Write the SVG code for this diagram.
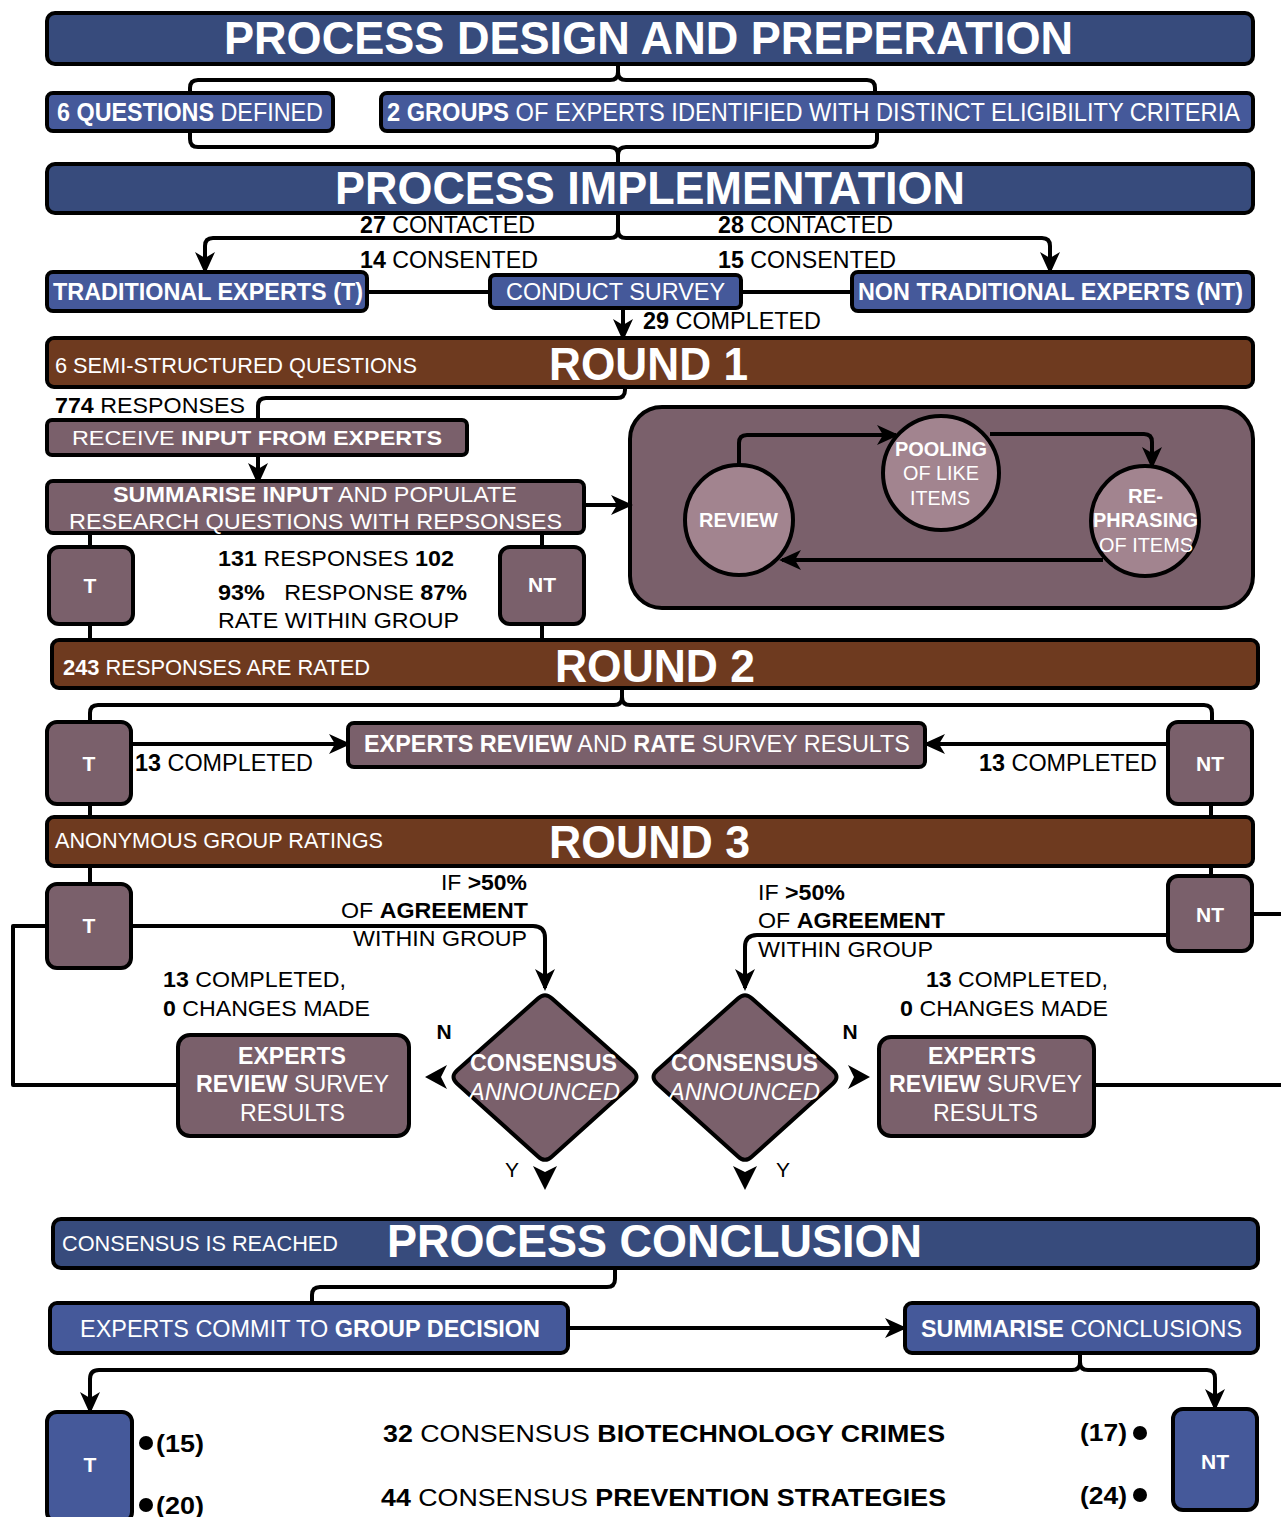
<svg xmlns="http://www.w3.org/2000/svg" width="1281" height="1517" viewBox="0 0 1281 1517">
<style>
text{font-family:"Liberation Sans",Arial,sans-serif}
.w{fill:#fff}.k{fill:#000}.b{font-weight:bold}.i{font-style:italic}
.hdr{fill:#374b7c;stroke:#000;stroke-width:4}
.blu{fill:#45599a;stroke:#000;stroke-width:4}
.brn{fill:#6e3a1f;stroke:#000;stroke-width:4}
.mv{fill:#7a606b;stroke:#000;stroke-width:4}
.cir{fill:#a2848f;stroke:#000;stroke-width:4}
.ln{fill:none;stroke:#000;stroke-width:4;stroke-linejoin:round}
.ar{fill:none;stroke:#000;stroke-width:4;stroke-linejoin:round;marker-end:url(#ah)}
.ah{fill:#000}
</style>
<defs>
<marker id="ah" viewBox="0 0 22 22" refX="19" refY="11" markerWidth="22" markerHeight="22" markerUnits="userSpaceOnUse" orient="auto">
<path d="M0,1 L22,11 L0,21 L6,11 z" fill="#000"/>
</marker>
</defs>

<g id="review-panel">
<rect class="mv" x="630" y="407" width="623" height="201" rx="32"/>
</g>

<g id="connectors">
<path class="ln" d="M618,64 V72 Q618,80 610,80 H198 Q190,80 190,88 V93"/>
<path class="ln" d="M618,72 Q618,80 626,80 H867 Q875,80 875,88 V93"/>
<path class="ln" d="M190,131 V139 Q190,147 198,147 H610 Q618,147 618,155 V165"/>
<path class="ln" d="M877,131 V139 Q877,147 869,147 H626 Q618,147 618,155"/>
<path class="ar" d="M618,213 V230 Q618,238 610,238 H213 Q205,238 205,246 V271"/>
<path class="ar" d="M618,230 Q618,238 626,238 H1042 Q1050,238 1050,246 V271"/>
<path class="ln" d="M367,292 H490"/>
<path class="ln" d="M741,292 H852"/>
<path class="ar" d="M623,308 V338"/>
<path class="ln" d="M625,387 V390 Q625,398 617,398 H266 Q258,398 258,406 V420"/>
<path class="ar" d="M258,455 V482"/>
<path class="ar" d="M584,505 H630"/>
<path class="ar" d="M739,466 V443 Q739,435 747,435 H896"/>
<path class="ar" d="M990,434 H1144 Q1152,434 1152,442 V466"/>
<path class="ar" d="M1103,560 H782"/>
<path class="ln" d="M90,533 V547 M90,624 V641 M542,533 V547 M542,624 V641"/>
<path class="ln" d="M622,688 V697 Q622,705 614,705 H98 Q90,705 90,713 V722"/>
<path class="ln" d="M622,697 Q622,705 630,705 H1204 Q1212,705 1212,713 V722"/>
<path class="ar" d="M131,744 H348"/>
<path class="ar" d="M1168,744 H926"/>
<path class="ln" d="M90,804 V817 M1211,804 V817 M90,866 V884 M1211,866 V876"/>
<path class="ar" d="M131,926 H533 Q545,926 545,938 V988"/>
<path class="ar" d="M1168,935 H757 Q745,935 745,947 V988"/>
<path class="ln" d="M47,926 H13 V1085 H178"/>
<path class="ln" d="M1094,1085 H1281"/>
<path class="ln" d="M1252,914 H1281"/>
<path class="ah" d="M425,1077 L447,1065 L441,1077 L447,1089 z"/>
<path class="ah" d="M870,1077 L848,1065 L854,1077 L848,1089 z"/>
<path class="ah" d="M545,1190 L533,1166 L545,1172 L557,1166 z"/>
<path class="ah" d="M745,1190 L733,1166 L745,1172 L757,1166 z"/>
<path class="ln" d="M615,1268 V1279 Q615,1287 607,1287 H320 Q312,1287 312,1295 V1303"/>
<path class="ar" d="M568,1328 H904"/>
<path class="ar" d="M1080,1353 V1362 Q1080,1370 1072,1370 H99 Q90,1370 90,1379 V1411"/>
<path class="ar" d="M1080,1362 Q1080,1370 1088,1370 H1207 Q1215,1370 1215,1378 V1408"/>
</g>

<g id="header-design">
<rect class="hdr" x="47" y="13" width="1206" height="51" rx="8"/>
<text class="w b" x="224" y="54" font-size="47" textLength="849" lengthAdjust="spacingAndGlyphs">PROCESS DESIGN AND PREPERATION</text>
</g>
<g id="questions-defined">
<rect class="blu" x="47" y="93" width="286" height="38" rx="6"/>
<text class="w" x="57" y="121" font-size="25" textLength="266" lengthAdjust="spacingAndGlyphs"><tspan class="b">6 QUESTIONS</tspan> DEFINED</text>
</g>
<g id="groups-identified">
<rect class="blu" x="381" y="93" width="872" height="38" rx="6"/>
<text class="w" x="387" y="121" font-size="25" textLength="853" lengthAdjust="spacingAndGlyphs"><tspan class="b">2 GROUPS</tspan> OF EXPERTS IDENTIFIED WITH DISTINCT  ELIGIBILITY CRITERIA</text>
</g>
<g id="header-implementation">
<rect class="hdr" x="47" y="164" width="1206" height="49" rx="8"/>
<text class="w b" x="335" y="204" font-size="47" textLength="630" lengthAdjust="spacingAndGlyphs">PROCESS IMPLEMENTATION</text>
</g>
<g id="labels-contact">
<text class="k" x="360" y="233" font-size="23" textLength="175" lengthAdjust="spacingAndGlyphs"><tspan class="b">27</tspan> CONTACTED</text>
<text class="k" x="360" y="268" font-size="23" textLength="178" lengthAdjust="spacingAndGlyphs"><tspan class="b">14</tspan> CONSENTED</text>
<text class="k" x="718" y="233" font-size="23" textLength="175" lengthAdjust="spacingAndGlyphs"><tspan class="b">28</tspan> CONTACTED</text>
<text class="k" x="718" y="268" font-size="23" textLength="178" lengthAdjust="spacingAndGlyphs"><tspan class="b">15</tspan> CONSENTED</text>
<text class="k" x="643" y="329" font-size="23" textLength="178" lengthAdjust="spacingAndGlyphs"><tspan class="b">29</tspan> COMPLETED</text>
</g>
<g id="traditional-experts">
<rect class="blu" x="47" y="272" width="320" height="39" rx="6"/>
<text class="w b" x="53" y="300" font-size="24" textLength="310" lengthAdjust="spacingAndGlyphs">TRADITIONAL EXPERTS (T)</text>
</g>
<g id="conduct-survey">
<rect class="blu" x="490" y="275" width="251" height="33" rx="5"/>
<text class="w" x="506" y="300" font-size="24" textLength="219" lengthAdjust="spacingAndGlyphs">CONDUCT SURVEY</text>
</g>
<g id="non-traditional-experts">
<rect class="blu" x="852" y="272" width="401" height="39" rx="6"/>
<text class="w b" x="858" y="300" font-size="24" textLength="385" lengthAdjust="spacingAndGlyphs">NON TRADITIONAL EXPERTS (NT)</text>
</g>

<g id="round1">
<rect class="brn" x="47" y="338" width="1206" height="49" rx="7"/>
<text class="w" x="55" y="373" font-size="22" textLength="362" lengthAdjust="spacingAndGlyphs">6 SEMI-STRUCTURED QUESTIONS</text>
<text class="w b" x="549" y="380" font-size="46" textLength="199" lengthAdjust="spacingAndGlyphs">ROUND 1</text>
</g>
<text class="k" x="55" y="413" font-size="22" textLength="190" lengthAdjust="spacingAndGlyphs"><tspan class="b">774</tspan> RESPONSES</text>
<g id="receive-input">
<rect class="mv" x="47" y="420" width="420" height="35" rx="5"/>
<text class="w" x="72" y="445" font-size="21" textLength="370" lengthAdjust="spacingAndGlyphs">RECEIVE <tspan class="b">INPUT FROM EXPERTS</tspan></text>
</g>
<g id="summarise-input">
<rect class="mv" x="47" y="481" width="537" height="52" rx="6"/>
<text class="w" x="113" y="502" font-size="22" textLength="404" lengthAdjust="spacingAndGlyphs"><tspan class="b">SUMMARISE INPUT</tspan> AND POPULATE</text>
<text class="w" x="69" y="529" font-size="22" textLength="493" lengthAdjust="spacingAndGlyphs">RESEARCH QUESTIONS WITH REPSONSES</text>
</g>
<g id="review">
<ellipse class="cir" cx="739" cy="520" rx="54" ry="55"/>
<text class="w b" x="699" y="527" font-size="20" textLength="79" lengthAdjust="spacingAndGlyphs">REVIEW</text>
</g>
<g id="pooling">
<ellipse class="cir" cx="941" cy="473" rx="58" ry="57"/>
<text class="w b" x="895" y="456" font-size="20" textLength="92" lengthAdjust="spacingAndGlyphs">POOLING</text>
<text class="w" x="903" y="480" font-size="20" textLength="76" lengthAdjust="spacingAndGlyphs">OF LIKE</text>
<text class="w" x="910" y="505" font-size="20" textLength="60" lengthAdjust="spacingAndGlyphs">ITEMS</text>
</g>
<g id="rephrasing">
<ellipse class="cir" cx="1145" cy="521" rx="54" ry="55"/>
<text class="w b" x="1128" y="503" font-size="20" textLength="35" lengthAdjust="spacingAndGlyphs">RE-</text>
<text class="w b" x="1093" y="527" font-size="20" textLength="105" lengthAdjust="spacingAndGlyphs">PHRASING</text>
<text class="w" x="1099" y="552" font-size="20" textLength="94" lengthAdjust="spacingAndGlyphs">OF ITEMS</text>
</g>
<g id="r1-t">
<rect class="mv" x="49" y="547" width="84" height="77" rx="10"/>
<text class="w b" x="90" y="593" font-size="21" text-anchor="middle">T</text>
</g>
<g id="r1-nt">
<rect class="mv" x="500" y="547" width="84" height="77" rx="10"/>
<text class="w b" x="542" y="592" font-size="21" text-anchor="middle">NT</text>
</g>
<g id="r1-stats">
<text class="k" x="218" y="566" font-size="22" textLength="236" lengthAdjust="spacingAndGlyphs"><tspan class="b">131</tspan> RESPONSES <tspan class="b">102</tspan></text>
<text class="k" x="218" y="600" font-size="22" textLength="249" lengthAdjust="spacingAndGlyphs" xml:space="preserve"><tspan class="b">93%</tspan>   RESPONSE <tspan class="b">87%</tspan></text>
<text class="k" x="218" y="628" font-size="22" textLength="241" lengthAdjust="spacingAndGlyphs">RATE WITHIN GROUP</text>
</g>

<g id="round2">
<rect class="brn" x="52" y="640" width="1206" height="48" rx="7"/>
<text class="w" x="63" y="675" font-size="22" textLength="307" lengthAdjust="spacingAndGlyphs"><tspan class="b">243</tspan> RESPONSES ARE RATED</text>
<text class="w b" x="555" y="682" font-size="46" textLength="200" lengthAdjust="spacingAndGlyphs">ROUND 2</text>
</g>
<g id="r2-t">
<rect class="mv" x="47" y="722" width="84" height="82" rx="10"/>
<text class="w b" x="89" y="771" font-size="21" text-anchor="middle">T</text>
</g>
<g id="r2-nt">
<rect class="mv" x="1168" y="722" width="84" height="82" rx="10"/>
<text class="w b" x="1210" y="771" font-size="21" text-anchor="middle">NT</text>
</g>
<g id="experts-review-rate">
<rect class="mv" x="348" y="723" width="577" height="44" rx="6"/>
<text class="w" x="364" y="752" font-size="23" textLength="546" lengthAdjust="spacingAndGlyphs"><tspan class="b">EXPERTS REVIEW</tspan> AND <tspan class="b">RATE</tspan> SURVEY RESULTS</text>
</g>
<text class="k" x="135" y="771" font-size="23" textLength="178" lengthAdjust="spacingAndGlyphs"><tspan class="b">13</tspan> COMPLETED</text>
<text class="k" x="979" y="771" font-size="23" textLength="178" lengthAdjust="spacingAndGlyphs"><tspan class="b">13</tspan> COMPLETED</text>

<g id="round3">
<rect class="brn" x="47" y="817" width="1206" height="49" rx="7"/>
<text class="w" x="55" y="848" font-size="22" textLength="328" lengthAdjust="spacingAndGlyphs">ANONYMOUS GROUP RATINGS</text>
<text class="w b" x="549" y="858" font-size="46" textLength="201" lengthAdjust="spacingAndGlyphs">ROUND 3</text>
</g>
<g id="r3-t">
<rect class="mv" x="47" y="884" width="84" height="84" rx="10"/>
<text class="w b" x="89" y="933" font-size="21" text-anchor="middle">T</text>
</g>
<g id="r3-nt">
<rect class="mv" x="1168" y="876" width="84" height="75" rx="10"/>
<text class="w b" x="1210" y="922" font-size="21" text-anchor="middle">NT</text>
</g>
<g id="r3-labels">
<text class="k" x="441" y="890" font-size="22" textLength="86" lengthAdjust="spacingAndGlyphs">IF <tspan class="b">&gt;50%</tspan></text>
<text class="k" x="341" y="918" font-size="22" textLength="187" lengthAdjust="spacingAndGlyphs">OF <tspan class="b">AGREEMENT</tspan></text>
<text class="k" x="353" y="946" font-size="22" textLength="174" lengthAdjust="spacingAndGlyphs">WITHIN GROUP</text>
<text class="k" x="758" y="900" font-size="22" textLength="87" lengthAdjust="spacingAndGlyphs">IF <tspan class="b">&gt;50%</tspan></text>
<text class="k" x="758" y="928" font-size="22" textLength="187" lengthAdjust="spacingAndGlyphs">OF <tspan class="b">AGREEMENT</tspan></text>
<text class="k" x="758" y="957" font-size="22" textLength="175" lengthAdjust="spacingAndGlyphs">WITHIN GROUP</text>
<text class="k" x="163" y="987" font-size="22" textLength="183" lengthAdjust="spacingAndGlyphs"><tspan class="b">13</tspan> COMPLETED,</text>
<text class="k" x="163" y="1016" font-size="22" textLength="207" lengthAdjust="spacingAndGlyphs"><tspan class="b">0</tspan> CHANGES MADE</text>
<text class="k" x="926" y="987" font-size="22" textLength="182" lengthAdjust="spacingAndGlyphs"><tspan class="b">13</tspan> COMPLETED,</text>
<text class="k" x="900" y="1016" font-size="22" textLength="208" lengthAdjust="spacingAndGlyphs"><tspan class="b">0</tspan> CHANGES MADE</text>
<text class="k b" x="444" y="1039" font-size="21" text-anchor="middle">N</text>
<text class="k b" x="850" y="1039" font-size="21" text-anchor="middle">N</text>
<text class="k" x="512" y="1177" font-size="21" text-anchor="middle">Y</text>
<text class="k" x="783" y="1177" font-size="21" text-anchor="middle">Y</text>
</g>
<g id="experts-review-left">
<rect class="mv" x="178" y="1035" width="231" height="101" rx="12"/>
<text class="w b" x="238" y="1064" font-size="23" textLength="108" lengthAdjust="spacingAndGlyphs">EXPERTS</text>
<text class="w" x="196" y="1092" font-size="23" textLength="193" lengthAdjust="spacingAndGlyphs"><tspan class="b">REVIEW</tspan> SURVEY</text>
<text class="w" x="240" y="1121" font-size="23" textLength="105" lengthAdjust="spacingAndGlyphs">RESULTS</text>
</g>
<g id="consensus-left">
<path class="mv" d="M538,998.5 Q545,992 552,998.5 L633,1070.5 Q640,1077 633,1083.5 L552,1156.5 Q545,1163 538,1156.5 L457,1083.5 Q450,1077 457,1070.5 Z"/>
<text class="w b" x="470" y="1071" font-size="23" textLength="147" lengthAdjust="spacingAndGlyphs">CONSENSUS</text>
<text class="w i" x="469" y="1100" font-size="23" textLength="151" lengthAdjust="spacingAndGlyphs">ANNOUNCED</text>
</g>
<g id="consensus-right">
<path class="mv" d="M738,998.5 Q745,992 752,998.5 L833,1070.5 Q840,1077 833,1083.5 L752,1156.5 Q745,1163 738,1156.5 L657,1083.5 Q650,1077 657,1070.5 Z"/>
<text class="w b" x="671" y="1071" font-size="23" textLength="147" lengthAdjust="spacingAndGlyphs">CONSENSUS</text>
<text class="w i" x="669" y="1100" font-size="23" textLength="151" lengthAdjust="spacingAndGlyphs">ANNOUNCED</text>
</g>
<g id="experts-review-right">
<rect class="mv" x="879" y="1037" width="215" height="99" rx="12"/>
<text class="w b" x="928" y="1064" font-size="23" textLength="108" lengthAdjust="spacingAndGlyphs">EXPERTS</text>
<text class="w" x="889" y="1092" font-size="23" textLength="193" lengthAdjust="spacingAndGlyphs"><tspan class="b">REVIEW</tspan> SURVEY</text>
<text class="w" x="933" y="1121" font-size="23" textLength="105" lengthAdjust="spacingAndGlyphs">RESULTS</text>
</g>

<g id="header-conclusion">
<rect class="hdr" x="53" y="1219" width="1205" height="49" rx="8"/>
<text class="w" x="62" y="1251" font-size="22" textLength="276" lengthAdjust="spacingAndGlyphs">CONSENSUS IS REACHED</text>
<text class="w b" x="387" y="1257" font-size="47" textLength="535" lengthAdjust="spacingAndGlyphs">PROCESS CONCLUSION</text>
</g>
<g id="experts-commit">
<rect class="blu" x="50" y="1303" width="518" height="50" rx="7"/>
<text class="w" x="80" y="1337" font-size="24" textLength="460" lengthAdjust="spacingAndGlyphs">EXPERTS COMMIT TO <tspan class="b">GROUP DECISION</tspan></text>
</g>
<g id="summarise-conclusions">
<rect class="blu" x="905" y="1303" width="353" height="50" rx="7"/>
<text class="w" x="921" y="1337" font-size="24" textLength="321" lengthAdjust="spacingAndGlyphs"><tspan class="b">SUMMARISE</tspan> CONCLUSIONS</text>
</g>
<g id="final-t">
<rect class="blu" x="47" y="1412" width="85" height="110" rx="10"/>
<text class="w b" x="90" y="1472" font-size="21" text-anchor="middle">T</text>
</g>
<g id="final-nt">
<rect class="blu" x="1173" y="1409" width="84" height="101" rx="10"/>
<text class="w b" x="1215" y="1469" font-size="21" text-anchor="middle">NT</text>
</g>
<g id="final-labels">
<circle cx="146" cy="1443" r="7"/>
<text class="k b" x="156" y="1452" font-size="24" textLength="48" lengthAdjust="spacingAndGlyphs">(15)</text>
<circle cx="146" cy="1505" r="7"/>
<text class="k b" x="156" y="1514" font-size="24" textLength="48" lengthAdjust="spacingAndGlyphs">(20)</text>
<text class="k" x="383" y="1442" font-size="24" textLength="562" lengthAdjust="spacingAndGlyphs"><tspan class="b">32</tspan> CONSENSUS <tspan class="b">BIOTECHNOLOGY CRIMES</tspan></text>
<text class="k" x="381" y="1506" font-size="24" textLength="565" lengthAdjust="spacingAndGlyphs"><tspan class="b">44</tspan> CONSENSUS <tspan class="b">PREVENTION STRATEGIES</tspan></text>
<text class="k b" x="1080" y="1441" font-size="24" textLength="47" lengthAdjust="spacingAndGlyphs">(17)</text>
<circle cx="1140" cy="1433" r="7"/>
<text class="k b" x="1080" y="1504" font-size="24" textLength="47" lengthAdjust="spacingAndGlyphs">(24)</text>
<circle cx="1140" cy="1495" r="7"/>
</g>
</svg>
